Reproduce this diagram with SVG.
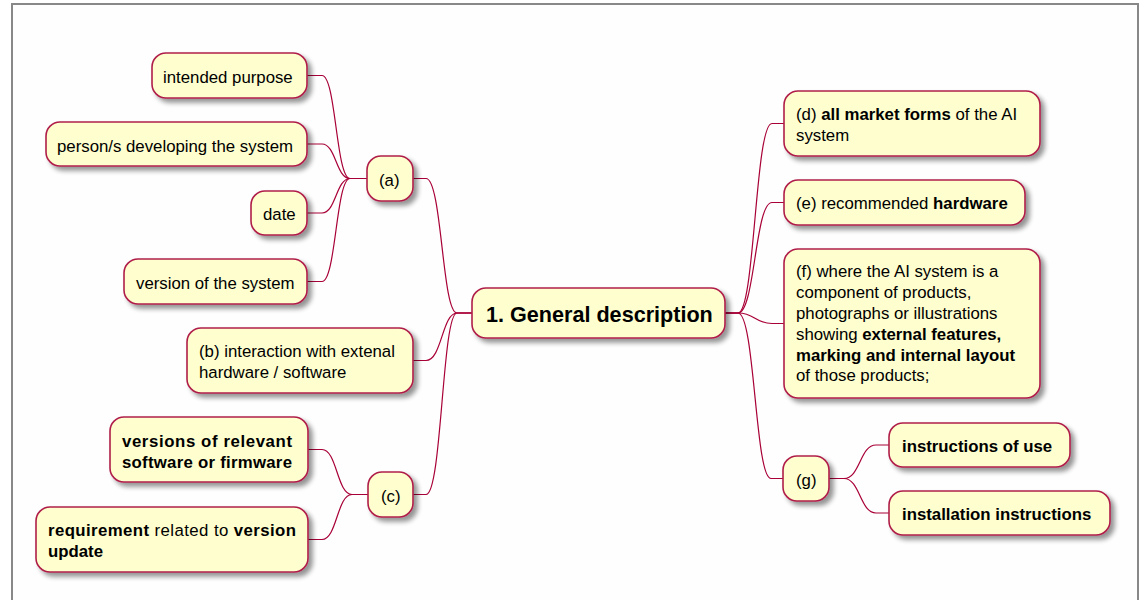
<svg xmlns="http://www.w3.org/2000/svg" width="1145" height="600" viewBox="0 0 1145 600">
  <defs>
    <filter id="shadow" x="-20%" y="-20%" width="150%" height="160%">
      <feGaussianBlur in="SourceAlpha" stdDeviation="2.5"/>
      <feOffset dx="4" dy="4" result="blur"/>
      <feComponentTransfer><feFuncA type="linear" slope="0.42"/></feComponentTransfer>
      <feMerge><feMergeNode/><feMergeNode in="SourceGraphic"/></feMerge>
    </filter>
    <style>
      .box { fill: #FEFECE; stroke: #B01F4A; stroke-width: 1.6; filter: url(#shadow); }
      .t { font-family: "Liberation Sans", Arial, sans-serif; font-size: 16.8px; fill: #000; }
      .root { font-family: "Liberation Sans", Arial, sans-serif; font-size: 21.6px; font-weight: bold; fill: #000; }
      .b { font-weight: bold; }
      .conn path { fill: none; stroke: #A80036; stroke-width: 1.2; }
    </style>
  </defs>

  <!-- page frame -->
  <rect x="12" y="4" width="1126" height="700" fill="#FEFEFE" stroke="#888888" stroke-width="2"/>

  <!-- connectors -->
  <g class="conn" id="connectors">
    <!-- (a) children -->
    <path d="M307,75.5 L322,75.5 C336,75.5 336,178.5 350,178.5 L367,178.5"/>
    <path d="M307,144 L322,144 C336,144 336,178.5 350,178.5 L367,178.5"/>
    <path d="M307,213 L322,213 C336,213 336,178.5 350,178.5 L367,178.5"/>
    <path d="M307,281.5 L322,281.5 C336,281.5 336,178.5 350,178.5 L367,178.5"/>
    <!-- (c) children -->
    <path d="M308,449.5 L322,449.5 C337,449.5 337,494.5 352,494.5 L368,494.5"/>
    <path d="M308,539.5 L322,539.5 C337,539.5 337,494.5 352,494.5 L368,494.5"/>
    <!-- left branches to root -->
    <path d="M413,178.5 L426,178.5 C442,178.5 442,313 457,313 L472,313"/>
    <path d="M413,360.5 L426,360.5 C442,360.5 442,313 457,313 L472,313"/>
    <path d="M413,494.5 L426,494.5 C442,494.5 442,313 457,313 L472,313"/>
    <!-- right branches from root -->
    <path d="M725,313 L738,313 C755,313 755,123.5 772,123.5 L784,123.5"/>
    <path d="M725,313 L738,313 C755,313 755,202.5 772,202.5 L784,202.5"/>
    <path d="M725,313 L738,313 C755,313 755,323.5 772,323.5 L784,323.5"/>
    <path d="M725,313 L738,313 C755,313 755,478.5 771,478.5 L783,478.5"/>
    <!-- (g) children -->
    <path d="M829,478.5 L844,478.5 C860,478.5 860,445 876,445 L889,445"/>
    <path d="M829,478.5 L844,478.5 C860,478.5 860,513 876,513 L889,513"/>
  </g>

  <!-- root -->
  <g id="root">
    <rect class="box" x="472" y="288" width="253" height="50" rx="14"/>
    <text class="root" x="486" y="322">1. General description</text>
  </g>

  <!-- branch (a) -->
  <g id="node-a">
    <rect class="box" x="367" y="156" width="46" height="45" rx="14"/>
    <text class="t" x="379" y="185.5">(a)</text>
  </g>
  <g id="node-a-purpose">
    <rect class="box" x="152" y="53" width="155" height="45" rx="14"/>
    <text class="t" x="163" y="82.5">intended purpose</text>
  </g>
  <g id="node-a-persons">
    <rect class="box" x="46" y="122" width="261" height="44" rx="14"/>
    <text class="t" x="57" y="151.5">person/s developing the system</text>
  </g>
  <g id="node-a-date">
    <rect class="box" x="251" y="191" width="56" height="44" rx="14"/>
    <text class="t" x="263" y="220">date</text>
  </g>
  <g id="node-a-version">
    <rect class="box" x="124" y="259" width="183" height="45" rx="14"/>
    <text class="t" x="136" y="288.5">version of the system</text>
  </g>

  <!-- branch (b) -->
  <g id="node-b">
    <rect class="box" x="187" y="328" width="226" height="65" rx="14"/>
    <text class="t" x="199" y="357">(b) interaction with extenal</text>
    <text class="t" x="199" y="377.5">hardware / software</text>
  </g>

  <!-- branch (c) -->
  <g id="node-c">
    <rect class="box" x="368" y="472" width="45" height="45" rx="14"/>
    <text class="t" x="381" y="501.5">(c)</text>
  </g>
  <g id="node-c-versions">
    <rect class="box" x="110" y="417" width="198" height="65" rx="14"/>
    <text class="t b" x="122" y="446.5" textLength="170" lengthAdjust="spacing">versions of relevant</text>
    <text class="t b" x="122" y="467.5" textLength="170" lengthAdjust="spacing">software or firmware</text>
  </g>
  <g id="node-c-requirement">
    <rect class="box" x="36" y="507" width="272" height="65" rx="14"/>
    <text class="t" x="48" y="536" textLength="248" lengthAdjust="spacing"><tspan class="b">requirement</tspan> related to <tspan class="b">version</tspan></text>
    <text class="t b" x="48" y="557">update</text>
  </g>

  <!-- branch (d) -->
  <g id="node-d">
    <rect class="box" x="784" y="91" width="256" height="65" rx="14"/>
    <text class="t" x="796" y="119.5">(d) <tspan class="b">all market forms</tspan> of the AI</text>
    <text class="t" x="796" y="140.5">system</text>
  </g>

  <!-- branch (e) -->
  <g id="node-e">
    <rect class="box" x="784" y="180" width="241" height="45" rx="14"/>
    <text class="t" x="796" y="209">(e) recommended <tspan class="b">hardware</tspan></text>
  </g>

  <!-- branch (f) -->
  <g id="node-f">
    <rect class="box" x="784" y="249" width="256" height="149" rx="14"/>
    <text class="t" x="796" y="277">(f) where the AI system is a</text>
    <text class="t" x="796" y="298">component of products,</text>
    <text class="t" x="796" y="318.5">photographs or illustrations</text>
    <text class="t" x="796" y="339.5">showing <tspan class="b">external features,</tspan></text>
    <text class="t b" x="796" y="360.5">marking and internal layout</text>
    <text class="t" x="796" y="381">of those products;</text>
  </g>

  <!-- branch (g) -->
  <g id="node-g">
    <rect class="box" x="783" y="456" width="46" height="45" rx="14"/>
    <text class="t" x="796" y="485.5">(g)</text>
  </g>
  <g id="node-g-use">
    <rect class="box" x="889" y="423" width="181" height="44" rx="14"/>
    <text class="t b" x="902" y="452">instructions of use</text>
  </g>
  <g id="node-g-install">
    <rect class="box" x="889" y="491" width="221" height="44" rx="14"/>
    <text class="t b" x="902" y="519.5">installation instructions</text>
  </g>
</svg>
